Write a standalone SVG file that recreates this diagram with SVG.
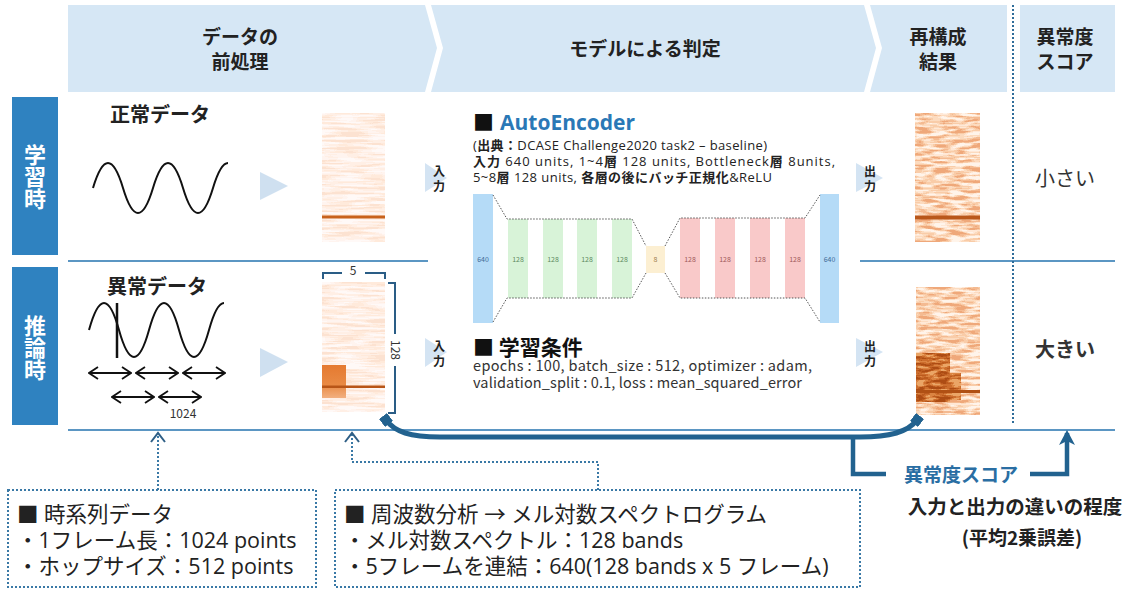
<svg xmlns="http://www.w3.org/2000/svg" width="1135" height="590" viewBox="0 0 1135 590">
<style>
.hd{font-family:"Noto Sans CJK JP","Noto Sans",sans-serif;font-size:19px;font-weight:700;fill:#222;text-anchor:middle}
.band{fill:#d6e7f5}
.rowbox{fill:#2f82c0}
.rowtx{font-family:"Noto Sans CJK JP",sans-serif;font-size:22px;font-weight:700;fill:#fff;text-anchor:middle;writing-mode:vertical-rl}
.sect{font-family:"Noto Sans CJK JP",sans-serif;font-size:20px;font-weight:700;fill:#222;text-anchor:middle}
.wave{fill:none;stroke:#111;stroke-width:2}
.dbl{fill:none;stroke:#111;stroke-width:1.8;marker-start:url(#oa);marker-end:url(#oa)}
.hline{stroke:#5b96c3;stroke-width:2}
.bigtri{fill:#cfe0f0}
.smtri{fill:#d4e4f3}
.io{font-family:"Noto Sans CJK JP",sans-serif;font-size:12px;font-weight:700;fill:#222;text-anchor:middle;writing-mode:vertical-rl;letter-spacing:3px}
.brk{fill:none;stroke:#2a5d86;stroke-width:2}
.small{font-family:"Noto Sans CJK JP",sans-serif;font-size:12px;fill:#333;text-anchor:middle}
.ae{font-family:"Open Sans","Noto Sans CJK JP",sans-serif;font-size:13px;fill:#222}
.cond{font-family:"Noto Sans CJK JP",sans-serif;font-size:14.5px;fill:#333}
.b{font-weight:700;font-family:"Noto Sans CJK JP",sans-serif}
.dash{fill:none;stroke:#555;stroke-width:1;stroke-dasharray:1.5 1.5}
.lbl{font-family:"Noto Sans CJK JP",sans-serif;font-size:7px;text-anchor:middle}
.dotbox{fill:none;stroke:#3a79a6;stroke-width:2;stroke-dasharray:2 2}
.dotln{fill:none;stroke:#3a79a6;stroke-width:2;stroke-dasharray:2 2;marker-end:url(#ca)}
.boxtx{font-family:"Open Sans","Noto Sans CJK JP",sans-serif;font-size:21.5px;font-weight:400;fill:#222}
.thick{fill:none;stroke:#22628f;stroke-width:5}
.score{fill:none;stroke:#22628f;stroke-width:4.5}
.res{font-family:"Noto Sans CJK JP",sans-serif;font-size:20px;fill:#333;text-anchor:middle}
</style>
<defs>
<filter id="fIn" x="0" y="0" width="1" height="1" color-interpolation-filters="sRGB">
<feTurbulence type="fractalNoise" baseFrequency="0.03 0.4" numOctaves="2" seed="3"/>
<feColorMatrix type="matrix" values="2.5 0 0 0 -0.75 2.5 0 0 0 -0.75 2.5 0 0 0 -0.75 0 0 0 0 1"/>
<feComponentTransfer>
<feFuncR type="discrete" tableValues="0.99 1 1 1 1"/>
<feFuncG type="discrete" tableValues="0.89 0.92 0.94 0.96 0.98"/>
<feFuncB type="discrete" tableValues="0.82 0.86 0.9 0.94 0.97"/>
</feComponentTransfer>
<feComposite operator="in" in2="SourceGraphic"/>
</filter>
<filter id="fOut" x="0" y="0" width="1" height="1" color-interpolation-filters="sRGB">
<feTurbulence type="fractalNoise" baseFrequency="0.06 0.3" numOctaves="2" seed="7"/>
<feColorMatrix type="matrix" values="2.5 0 0 0 -0.75 2.5 0 0 0 -0.75 2.5 0 0 0 -0.75 0 0 0 0 1"/>
<feComponentTransfer>
<feFuncR type="discrete" tableValues="0.94 0.96 0.98 0.99 1 1"/>
<feFuncG type="discrete" tableValues="0.66 0.73 0.8 0.86 0.91 0.96"/>
<feFuncB type="discrete" tableValues="0.48 0.57 0.66 0.75 0.84 0.92"/>
</feComponentTransfer>
<feComposite operator="in" in2="SourceGraphic"/>
</filter>
<filter id="fDark" x="0" y="0" width="1" height="1" color-interpolation-filters="sRGB">
<feTurbulence type="fractalNoise" baseFrequency="0.08 0.3" numOctaves="2" seed="11"/>
<feColorMatrix type="matrix" values="2.5 0 0 0 -0.75 2.5 0 0 0 -0.75 2.5 0 0 0 -0.75 0 0 0 0 1"/>
<feComponentTransfer>
<feFuncR type="discrete" tableValues="0.68 0.74 0.8 0.86 0.92"/>
<feFuncG type="discrete" tableValues="0.3 0.36 0.43 0.52 0.65"/>
<feFuncB type="discrete" tableValues="0.08 0.12 0.18 0.26 0.4"/>
</feComponentTransfer>
<feComposite operator="in" in2="SourceGraphic"/>
</filter>
<linearGradient id="gBlock" x1="0" y1="0" x2="0" y2="1">
<stop offset="0" stop-color="#e57a30"/><stop offset="0.6" stop-color="#e98a44"/><stop offset="1" stop-color="#f2b080"/>
</linearGradient>
<marker id="oa" markerUnits="userSpaceOnUse" markerWidth="12" markerHeight="14" viewBox="0 0 12 14" refX="11" refY="7" orient="auto-start-reverse">
<path d="M2 1 L11 7 L2 13" fill="none" stroke="#111" stroke-width="1.8"/>
</marker>
<marker id="ca" markerUnits="userSpaceOnUse" markerWidth="16" markerHeight="16" viewBox="0 0 16 16" refX="14" refY="8" orient="auto">
<path d="M5 1 L14 8 L5 15" fill="none" stroke="#2f5f86" stroke-width="2"/>
</marker>
<marker id="sq" markerUnits="userSpaceOnUse" markerWidth="10" markerHeight="10" viewBox="0 0 10 10" refX="5" refY="5" orient="auto">
<rect x="0" y="0" width="10" height="10" fill="#22628f"/>
</marker>
<marker id="ua" markerUnits="userSpaceOnUse" markerWidth="16" markerHeight="18" viewBox="0 0 16 18" refX="12" refY="9" orient="auto">
<path d="M0 1 L15 9 L0 17 L4 9 Z" fill="#22628f"/>
</marker>
</defs>
<rect width="1135" height="590" fill="#fff"/>

<g id="header">
<polygon class="band" points="68,5 425,5 437,48 425,92 68,92"/>
<polygon class="band" points="431,5 864,5 876,48 864,92 431,92 443,48"/>
<polygon class="band" points="870,5 1007,5 1007,92 870,92 882,48"/>
<polygon class="band" points="1020,5 1115,5 1115,92 1020,92"/>
<text class="hd" x="240" y="44">データの</text>
<text class="hd" x="240" y="69">前処理</text>
<text class="hd" x="645" y="56">モデルによる判定</text>
<text class="hd" x="938" y="44">再構成</text>
<text class="hd" x="938" y="69">結果</text>
<text class="hd" x="1065" y="44">異常度</text>
<text class="hd" x="1065" y="69">スコア</text>
</g>

<g id="row-train">
<rect class="rowbox" x="12" y="97" width="46" height="158"/>
<text class="rowtx" x="35" y="177">学習時</text>
</g>
<g id="row-infer">
<rect class="rowbox" x="12" y="267" width="46" height="158"/>
<text class="rowtx" x="35" y="348">推論時</text>
</g>

<g id="grid">
<line class="hline" x1="68" y1="261" x2="428" y2="261"/>
<line class="hline" x1="860" y1="261" x2="1115" y2="261"/>
<line class="hline" x1="68" y1="430" x2="1115" y2="430"/>
<line x1="1013" y1="5" x2="1013" y2="424" stroke="#2f6d9a" stroke-width="2" stroke-dasharray="2 2"/>
</g>

<g id="normal-data">
<text class="sect" x="160" y="122">正常データ</text>
<path class="wave" d="M93 188 Q108 138 123 188 T153 188 T183 188 T213 188 Q220.5 163 228 163"/>
</g>

<g id="abnormal-data">
<text class="sect" x="157" y="294">異常データ</text>
<path class="wave" d="M89 330 Q104 276 119 330 T149 330 T179 330 T209 330 Q216.5 303 224 303"/>
<line x1="117" y1="303" x2="117" y2="358" stroke="#111" stroke-width="2.5"/>
<line class="dbl" x1="89" y1="373" x2="131" y2="373"/>
<line class="dbl" x1="136" y1="373" x2="178" y2="373"/>
<line class="dbl" x1="183" y1="373" x2="225" y2="373"/>
<line class="dbl" x1="112" y1="397" x2="154" y2="397"/>
<line class="dbl" x1="159" y1="397" x2="201" y2="397"/>
<text class="small" x="183" y="418" font-size="11">1024</text>
</g>

<g id="spec-in-train">
<rect x="322" y="113" width="63" height="129" fill="#fdeee3" filter="url(#fIn)"/>
<rect x="322" y="215.5" width="63" height="3" fill="#c8621c"/>
</g>

<g id="spec-in-infer">
<rect x="322" y="282" width="63" height="130" fill="#fdeee3" filter="url(#fIn)"/>
<rect x="322" y="365" width="24" height="33" fill="url(#gBlock)"/>
<rect x="322" y="385.5" width="63" height="2.5" fill="#b85517"/>
<path class="brk" d="M323 279 V273 H342 M365 273 H385 V279"/>
<text class="small" x="353" y="275">5</text>
<path class="brk" d="M388 283 H395 V334 M395 366 V413 H388"/>
<text class="small" transform="translate(395,350) rotate(90)" x="0" y="4">128</text>
</g>

<g id="autoencoder">
<text x="473" y="130" font-family="'Noto Sans CJK JP',sans-serif" font-size="21" font-weight="700" fill="#111">■</text>
<text x="500" y="130" font-family="'Open Sans','Noto Sans',sans-serif" font-size="21" font-weight="700" fill="#2a78b6">AutoEncoder</text>
<text class="ae" x="473" y="150"><tspan x="473" y="150" textLength="294">(<tspan class="b">出典：</tspan>DCASE Challenge2020 task2 – baseline)</tspan><tspan x="473" y="166" textLength="362"><tspan class="b">入力</tspan> 640 units, 1~4<tspan class="b">層</tspan> 128 units, Bottleneck<tspan class="b">層</tspan> 8units,</tspan><tspan x="473" y="182" textLength="299">5~8<tspan class="b">層</tspan> 128 units, <tspan class="b">各層の後にバッチ正規化</tspan>&amp;ReLU</tspan></text>
<rect x="473" y="194" width="20" height="129" fill="#b5dbf7"/>
<rect x="508" y="219" width="20" height="79" fill="#d8f3d8"/>
<rect x="543" y="219" width="20" height="79" fill="#d8f3d8"/>
<rect x="577" y="219" width="20" height="79" fill="#d8f3d8"/>
<rect x="612" y="219" width="20" height="79" fill="#d8f3d8"/>
<rect x="646" y="246" width="19" height="27" fill="#fcefd2"/>
<rect x="680" y="218" width="20" height="80" fill="#f9c9c9"/>
<rect x="715" y="218" width="20" height="80" fill="#f9c9c9"/>
<rect x="750" y="218" width="20" height="80" fill="#f9c9c9"/>
<rect x="785" y="218" width="20" height="80" fill="#f9c9c9"/>
<rect x="820" y="194" width="19" height="129" fill="#b5dbf7"/>
<polyline class="dash" points="493,195 507,219 632,219 646,246"/>
<polyline class="dash" points="493,322 507,298 632,298 646,273"/>
<polyline class="dash" points="665,246 680,218 805,218 820,195"/>
<polyline class="dash" points="665,273 680,298 805,298 820,322"/>
<text class="lbl" x="483" y="261.5" fill="#3f6a96">640</text>
<text class="lbl" x="518" y="261.5" fill="#5f8a5f">128</text>
<text class="lbl" x="553" y="261.5" fill="#5f8a5f">128</text>
<text class="lbl" x="587" y="261.5" fill="#5f8a5f">128</text>
<text class="lbl" x="622" y="261.5" fill="#5f8a5f">128</text>
<text class="lbl" x="655.5" y="261.5" fill="#a08050">8</text>
<text class="lbl" x="690" y="261.5" fill="#a05a5a">128</text>
<text class="lbl" x="725" y="261.5" fill="#a05a5a">128</text>
<text class="lbl" x="760" y="261.5" fill="#a05a5a">128</text>
<text class="lbl" x="795" y="261.5" fill="#a05a5a">128</text>
<text class="lbl" x="829.5" y="261.5" fill="#3f6a96">640</text>
</g>

<g id="train-conditions">
<text class="cond" x="473" y="355"><tspan x="473" y="355" font-size="21" font-weight="700" fill="#111">■ 学習条件</tspan><tspan x="473" y="371" textLength="339">epochs : 100, batch_size : 512, optimizer : adam,</tspan><tspan x="473" y="388" textLength="329">validation_split : 0.1, loss : mean_squared_error</tspan></text>
</g>

<g id="spec-out-train">
<rect x="915" y="113" width="65" height="129" fill="#f8d5bd" filter="url(#fOut)"/>
<rect x="915" y="215.5" width="65" height="4" fill="#b9571a"/>
</g>
<g id="spec-out-infer">
<rect x="916" y="287" width="64" height="128" fill="#f8d5bd" filter="url(#fOut)"/>
<path d="M916 353 H950 V373 H961 V400 H950 V402 H916 Z" fill="#c8651e" filter="url(#fDark)"/>
<rect x="916" y="390" width="64" height="3" fill="#b05014"/>
</g>

<g id="score-results">
<text class="res" x="1065" y="186">小さい</text>
<text class="res" x="1065" y="357" font-weight="700" fill="#222">大きい</text>
</g>

<g id="connectors">
<polygon class="bigtri" points="260,172 288,186 260,200"/>
<polygon class="bigtri" points="260,348 288,362 260,377"/>
<polygon class="smtri" points="425,163 447,178 425,192"/>
<text class="io" x="439" y="180">入力</text>
<polygon class="smtri" points="425,338 447,352 425,367"/>
<text class="io" x="439" y="355">入力</text>
<polygon class="smtri" points="856,163 883,178 856,192"/>
<text class="io" x="870" y="180">出力</text>
<polygon class="smtri" points="856,338 883,352 856,367"/>
<text class="io" x="870" y="355">出力</text>
<path class="thick" d="M386 420 C395 432 410 437 440 437 L860 437 C890 437 908 432 917 420" marker-start="url(#sq)" marker-end="url(#sq)"/>
<polyline class="score" points="853,437 853,474 886,474"/>
<polyline class="score" points="1030,474 1067,474 1067,433" marker-end="url(#ua)"/>
<path class="dotln" d="M158 490 V433"/>
<path class="dotln" d="M598 490 V462 H352 V433"/>
</g>

<g id="score-label">
<text x="961" y="482" font-family="'Noto Sans CJK JP',sans-serif" font-size="19" font-weight="700" fill="#2a6ea3" text-anchor="middle">異常度スコア</text>
<text x="1015" y="514" font-family="'Noto Sans CJK JP',sans-serif" font-size="19.5" font-weight="700" fill="#222" text-anchor="middle">入力と出力の違いの程度</text>
<text x="1022" y="545" font-family="'Noto Sans CJK JP',sans-serif" font-size="19" font-weight="700" fill="#222" text-anchor="middle">(平均2乗誤差)</text>
</g>

<g id="box-timeseries">
<rect class="dotbox" x="8" y="490" width="308" height="97"/>
<text class="boxtx" x="17" y="522">■ 時系列データ</text>
<text class="boxtx" x="17" y="548">・1フレーム長：1024 points</text>
<text class="boxtx" x="17" y="574">・ホップサイズ：512 points</text>
</g>
<g id="box-frequency">
<rect class="dotbox" x="335" y="490" width="525" height="97"/>
<text class="boxtx" x="344" y="522">■ 周波数分析 → メル対数スペクトログラム</text>
<text class="boxtx" x="344" y="548">・メル対数スペクトル：128 bands</text>
<text class="boxtx" x="344" y="574">・5フレームを連結：640(128 bands x 5 フレーム)</text>
</g>
</svg>
